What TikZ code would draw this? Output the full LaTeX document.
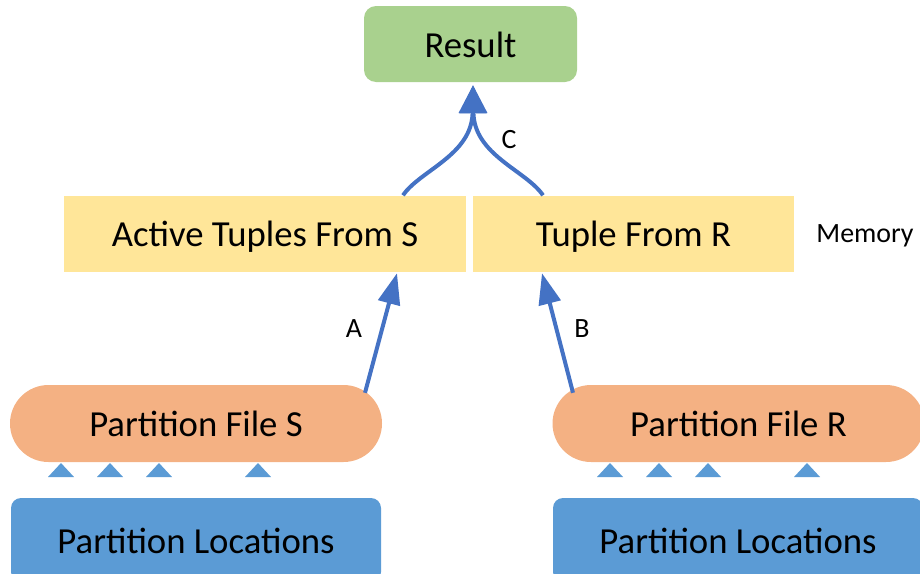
\documentclass[tikz,border=0pt]{standalone}
\usepackage{fontspec}
\setmainfont{Carlito}
\usetikzlibrary{arrows.meta,calc}
\definecolor{resgreen}{HTML}{A9D18E}
\definecolor{memyellow}{HTML}{FFE699}
\definecolor{fileorange}{HTML}{F4B183}
\definecolor{locblue}{HTML}{5B9BD5}
\definecolor{arrowblue}{HTML}{4472C4}
\tikzset{
  box/.style={inner sep=0pt, align=center, text height=26.6pt, text depth=0pt, font=\fontsize{36.7}{44}\selectfont},
  resbox/.style={box, fill=resgreen, rounded corners=12pt, minimum width=213pt, minimum height=76pt},
  membox/.style={box, fill=memyellow, minimum height=76pt},
  filebox/.style={box, fill=fileorange, rounded corners=38.5pt, minimum width=372pt, minimum height=77pt},
  locbox/.style={box, fill=locblue, rounded corners=10pt, minimum width=370pt, minimum height=84pt},
  lbl/.style={inner sep=0pt, font=\fontsize{27.9}{33}\selectfont},
  flow/.style={draw=arrowblue, line width=4pt, -{Triangle[length=31pt,width=22pt]}},
  topflow/.style={draw=arrowblue, line width=4pt, -{Triangle[length=28pt,width=27pt]}},
  tri/.style={fill=locblue}
}
\begin{document}
\begin{tikzpicture}[x=1pt,y=-1pt]
\useasboundingbox (0,0) rectangle (920,573);
% nodes
\node[resbox] (res) at (470.5,44) {Result};
\node[membox, minimum width=402pt] (actS) at (265,233.5) {Active Tuples From S};
\node[membox, minimum width=321pt] (tupR) at (633.5,233.5) {Tuple From R};
\node[lbl] (mem) at (865,236) {Memory};
\node[filebox] (pfS) at (196,423.5) {Partition File S};
\node[filebox] (pfR) at (738.5,423.5) {Partition File R};
\node[locbox] (plS) at (196,540) {Partition Locations};
\node[locbox] (plR) at (738,540) {Partition Locations};
% small triangles
\foreach \x in {61,110,159,258,610,659,708,807}{
  \fill[tri] (\x-13,477) -- (\x,463) -- (\x+13,477) -- cycle;
}
% connectors
\draw[flow] ($(pfS.north)+(169,8)$) -- ($(actS.south)+(132,1.5)$);
\draw[flow] ($(pfR.north)+(-165.5,8)$) -- ($(tupR.south)+(-91.5,1.5)$);
\draw[topflow] ($(actS.north)+(138,0)$) .. controls +(17,-25) and +(-1,70) .. ($(res.south)+(2.5,3)$);
\draw[topflow] ($(tupR.north)+(-90.5,0)$) .. controls +(-17,-25) and +(1,70) .. ($(res.south)+(2.5,3)$);
% labels
\node[lbl] (labA) at (354,329) {A};
\node[lbl] (labB) at (582,329) {B};
\node[lbl] (labC) at (509,140) {C};
\end{tikzpicture}
\end{document}
